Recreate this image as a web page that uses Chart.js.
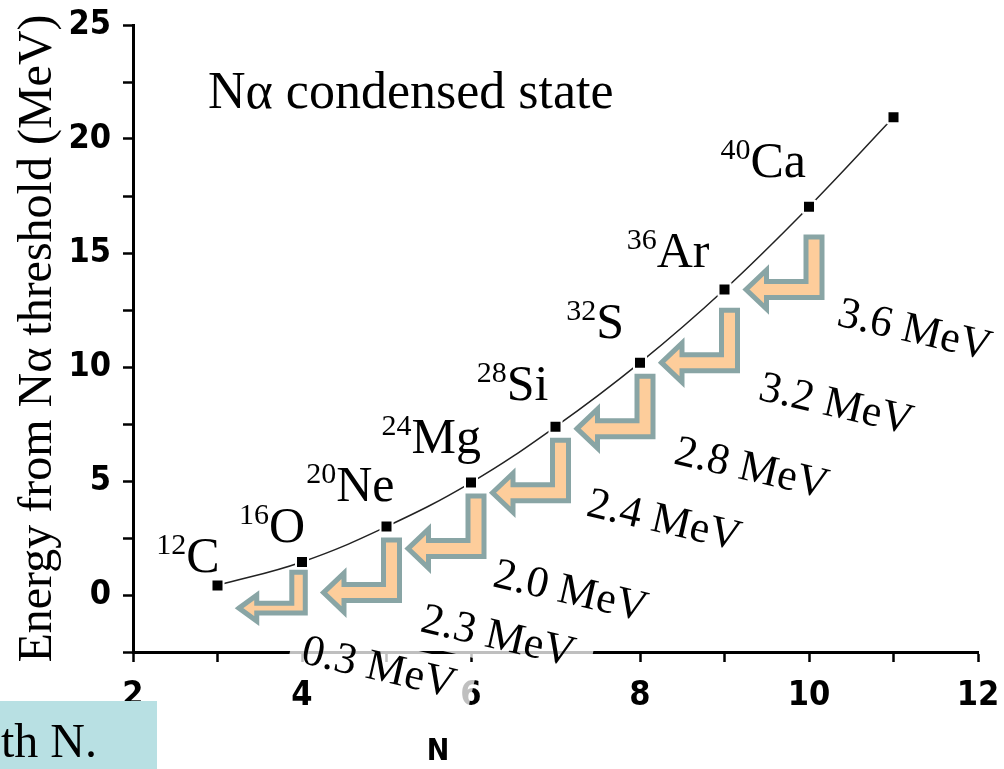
<!DOCTYPE html>
<html>
<head>
<meta charset="utf-8">
<script src="https://cdn.jsdelivr.net/npm/chart.js@4.4.0/dist/chart.umd.min.js"></script>
<style>
html,body{margin:0;padding:0;background:#fff;}
#wrap{position:relative;width:1004px;height:769px;}
</style>
</head>
<body>
<div id="wrap"><canvas id="c" width="1004" height="769"></canvas></div>
<script>
// ── data ──
var nAlpha = [3, 4, 5, 6, 7, 8, 9, 10, 11];
var energy = [0.42, 1.45, 3.0, 4.93, 7.38, 10.19, 13.4, 17.03, 20.95];
var massNum = ['12', '16', '20', '24', '28', '32', '36', '40'];
var symbol = ['C', 'O', 'Ne', 'Mg', 'Si', 'S', 'Ar', 'Ca'];
var gapLabels = ['0.3 MeV', '2.3 MeV', '2.0 MeV', '2.4 MeV', '2.8 MeV', '3.2 MeV', '3.6 MeV'];
var xTickLabels = [2, 4, 6, 8, 10, 12];
var yTickLabels = [0, 5, 10, 15, 20, 25];

// ── layout tweaks (pixels) ──
var nucOffset = [[2,-13],[3,-20],[8,-26],[10,-30],[-7,-27],[-16,-25],[-15,-22],[-3,-30]];
var arrowSize = [[0.88,0.7],[1,1],[1,1],[1,1],[1,1],[1,1],[1,1]];
var gapNudge = [[-22,21],[3,2],[-9,1],[0,-14],[3,-2],[3,0],[-3,-1]];

var SERIF = '"Liberation Serif", "Times New Roman", serif';
var GOTHIC = '"Liberation Sans Narrow", "DejaVu Sans Condensed", "Liberation Sans", sans-serif';
var FILL = '#fdcd9b', EDGE = '#89a5a5';

function arrowPath(ctx, tx, ty, sx, sy) {
    var W = 81*sx, head = 23*sx, hh = 22*sy, bh = 10.5*sy, sw = 21*sx, top = 55*sy, k = 2.5;
    ctx.beginPath();
    ctx.moveTo(tx + k, ty);
    ctx.lineTo(tx + head, ty - hh + k);
    ctx.lineTo(tx + head, ty - bh + k);
    ctx.lineTo(tx + W - sw + k, ty - bh + k);
    ctx.lineTo(tx + W - sw + k, ty - top + k);
    ctx.lineTo(tx + W - k, ty - top + k);
    ctx.lineTo(tx + W - k, ty + bh - k);
    ctx.lineTo(tx + head, ty + bh - k);
    ctx.lineTo(tx + head, ty + hh - k);
    ctx.closePath();
}

var annot = {
    id: 'annot',
    afterDraw: function(chart) {
        var ctx = chart.ctx, xs = chart.scales.x, ys = chart.scales.y, ca = chart.chartArea;
        var px = function(i){ return xs.getPixelForValue(nAlpha[i]); };
        var py = function(i){ return ys.getPixelForValue(energy[i]); };
        var ang = 13 * Math.PI / 180;

        // arrow geometry
        var arrows = [];
        for (var i = 1; i < nAlpha.length - 1; i++) {
            var s = arrowSize[i-1];
            var tx = px(i-1) + 19;
            var ty = Math.max(py(i-1), py(i) + 66*s[1]);
            var lx = tx + 81*s[0] + 14 + gapNudge[i-1][0];
            var ly = ty + 10.5*s[1] + 26 + gapNudge[i-1][1];
            arrows.push({tx:tx, ty:ty, sx:s[0], sy:s[1], lx:lx, ly:ly, text:gapLabels[i-1]});
        }

        // semi-opaque text boxes behind the gap labels
        ctx.save();
        ctx.font = '44px ' + SERIF;
        arrows.forEach(function(a){
            var w = ctx.measureText(a.text).width;
            ctx.save();
            ctx.translate(a.lx, a.ly);
            ctx.rotate(ang);
            ctx.fillStyle = 'rgba(255,255,255,0.75)';
            ctx.fillRect(-12, -38, w + 30, 52);
            ctx.restore();
        });
        ctx.restore();

        // arrows
        ctx.save();
        ctx.lineJoin = 'miter';
        arrows.forEach(function(a){
            arrowPath(ctx, a.tx, a.ty, a.sx, a.sy);
            ctx.fillStyle = FILL; ctx.fill();
            ctx.lineWidth = 5; ctx.strokeStyle = EDGE; ctx.stroke();
        });
        ctx.restore();

        // gap labels
        ctx.save();
        ctx.font = '44px ' + SERIF;
        ctx.fillStyle = '#000';
        ctx.textBaseline = 'alphabetic';
        arrows.forEach(function(a){
            ctx.save();
            ctx.translate(a.lx, a.ly);
            ctx.rotate(ang);
            ctx.fillText(a.text, 0, 0);
            ctx.restore();
        });
        ctx.restore();

        // nucleus labels
        ctx.save();
        ctx.fillStyle = '#000';
        ctx.textBaseline = 'alphabetic';
        for (var j = 0; j < symbol.length; j++) {
            ctx.font = '30px ' + SERIF;
            var ws = ctx.measureText(massNum[j]).width;
            ctx.font = '50px ' + SERIF;
            var wm = ctx.measureText(symbol[j]).width;
            var right = px(j) + nucOffset[j][0], base = py(j) + nucOffset[j][1];
            var left = right - ws - wm;
            ctx.font = '30px ' + SERIF;
            ctx.fillText(massNum[j], left, base - 18);
            ctx.font = '50px ' + SERIF;
            ctx.fillText(symbol[j], left + ws, base);
        }
        ctx.restore();

        // title inside plot
        ctx.save();
        ctx.font = '52px ' + SERIF;
        ctx.fillStyle = '#000';
        ctx.fillText('N\u03b1 condensed state', ca.left + 75, ca.top + 83);
        ctx.restore();

        // x axis title
        ctx.save();
        ctx.font = 'bold 30px ' + GOTHIC;
        ctx.fillStyle = '#000';
        ctx.textAlign = 'center';
        ctx.fillText('N', 438, 760);
        ctx.restore();

        // caption box from slide
        ctx.save();
        ctx.fillStyle = '#b8e0e3';
        ctx.fillRect(0, 701, 157, 68);
        ctx.fillStyle = '#000';
        ctx.font = '48px ' + SERIF;
        ctx.fillText('th N.', 1, 757);
        ctx.restore();
    }
};

new Chart(document.getElementById('c'), {
    type: 'line',
    data: {
        labels: nAlpha,
        datasets: [{
            data: nAlpha.map(function(n, i){ return {x: n, y: energy[i]}; }),
            borderColor: '#222',
            borderWidth: 1.5,
            tension: 0.4,
            pointStyle: 'rect',
            pointRadius: 8.5,
            pointBackgroundColor: '#000',
            pointBorderColor: '#fff',
            pointBorderWidth: 2,
            fill: false
        }]
    },
    options: {
        responsive: false,
        animation: false,
        devicePixelRatio: 1,
        layout: { padding: { top: 25, right: 26, left: 0, bottom: 0 } },
        plugins: { legend: { display: false }, tooltip: { enabled: false } },
        scales: {
            x: {
                type: 'linear', min: 2, max: 12,
                afterFit: function(s){ s.height = 117; s.paddingLeft = 0; s.paddingRight = 0; },
                border: { display: true, color: '#000', width: 3 },
                grid: { drawOnChartArea: false, drawTicks: true, tickLength: 10, tickWidth: 2.5, tickColor: '#000' },
                ticks: {
                    stepSize: 1, color: '#000', padding: 14,
                    font: { family: GOTHIC, size: 34, weight: 'bold' },
                    callback: function(v){ return xTickLabels.indexOf(v) >= 0 ? String(v) : ''; }
                }
            },
            y: {
                min: -2.5, max: 25,
                afterFit: function(s){ s.width = 133; s.paddingTop = 0; s.paddingBottom = 0; },
                border: { display: true, color: '#000', width: 3 },
                grid: { drawOnChartArea: false, drawTicks: true, tickLength: 10, tickWidth: 2.5, tickColor: '#000' },
                ticks: {
                    stepSize: 2.5, color: '#000', padding: 12,
                    font: { family: GOTHIC, size: 34, weight: 'bold' },
                    callback: function(v){ return yTickLabels.indexOf(v) >= 0 ? String(v) : ''; }
                },
                title: {
                    display: true, text: 'Energy from N\u03b1 threshold (MeV)',
                    color: '#000', padding: { top: 10, bottom: 0 },
                    font: { family: SERIF, size: 48, weight: 'normal' }
                }
            }
        }
    },
    plugins: [annot]
});
</script>
</body>
</html>
